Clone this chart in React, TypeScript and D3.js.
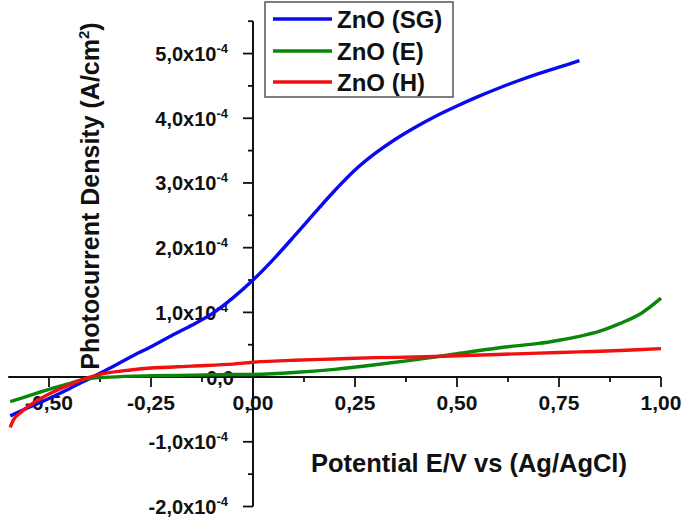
import React from "react";
import * as d3 from "d3";

// ZnO (SG)
const sgX = [-0.595, -0.55, -0.5, -0.45, -0.4, -0.35, -0.3, -0.25, -0.2, -0.15, -0.1, -0.05, 0.0, 0.05, 0.1, 0.15, 0.2, 0.25, 0.3, 0.35, 0.4, 0.45, 0.5, 0.55, 0.6, 0.65, 0.7, 0.75, 0.8];
const sgY = [-0.6, -0.47, -0.33, -0.18, -0.02, 0.14, 0.31, 0.47, 0.64, 0.8, 0.98, 1.22, 1.5, 1.82, 2.17, 2.53, 2.88, 3.2, 3.46, 3.68, 3.87, 4.04, 4.19, 4.33, 4.46, 4.58, 4.69, 4.79, 4.89];

// ZnO (E)
const eX = [-0.595, -0.55, -0.494, -0.45, -0.41, -0.35, -0.25, -0.15, -0.05, 0.0, 0.1, 0.2, 0.3, 0.4, 0.5, 0.6, 0.7, 0.75, 0.8, 0.85, 0.9, 0.95, 1.0];
const eY = [-0.38, -0.29, -0.18, -0.1, -0.03, 0.0, 0.02, 0.03, 0.04, 0.04, 0.07, 0.12, 0.19, 0.27, 0.36, 0.45, 0.52, 0.57, 0.63, 0.71, 0.83, 0.98, 1.22];

// ZnO (H)
const hX = [-0.595, -0.585, -0.57, -0.55, -0.52, -0.49, -0.45, -0.41, -0.37, -0.3, -0.25, -0.15, -0.05, 0.0, 0.1, 0.2, 0.3, 0.4, 0.5, 0.6, 0.7, 0.8, 0.9, 1.0];
const hY = [-0.78, -0.64, -0.55, -0.45, -0.33, -0.23, -0.12, -0.02, 0.05, 0.11, 0.14, 0.17, 0.2, 0.23, 0.26, 0.28, 0.3, 0.31, 0.33, 0.35, 0.37, 0.39, 0.41, 0.44];

const seriesNames = ["ZnO (SG)", "ZnO (E)", "ZnO (H)"];
const seriesColors = ["#0a0af0", "#0a870a", "#f01010"];

const xTicks = [-0.5, -0.25, 0, 0.25, 0.5, 0.75, 1.0];
const xTickLabels = ["-0,50", "-0,25", "0,00", "0,25", "0,50", "0,75", "1,00"];
const xMinor = [-0.375, -0.125, 0.125, 0.375, 0.625, 0.875];
const yTicks = [-2, -1, 0, 1, 2, 3, 4, 5];
const yTickLabels = ["-2,0", "-1,0", "0,0", "1,0", "2,0", "3,0", "4,0", "5,0"];
const yMinor = [-1.5, -0.5, 0.5, 1.5, 2.5, 3.5, 4.5, 5.5];

const FONT = "'Liberation Sans', Arial, Helvetica, sans-serif";

export default function App() {
  const x = d3.scaleLinear().domain([-0.6, 1.0]).range([8.2, 661]);
  const y = d3.scaleLinear().domain([-2, 5.5]).range([506.5, 21.2]);
  const x0 = x(0);
  const y0 = y(0);

  const line = d3
    .line<[number, number]>()
    .x((d) => x(d[0]))
    .y((d) => y(d[1]))
    .curve(d3.curveCatmullRom.alpha(0.5));

  const series = [
    sgX.map((v, i) => [v, sgY[i]] as [number, number]),
    eX.map((v, i) => [v, eY[i]] as [number, number]),
    hX.map((v, i) => [v, hY[i]] as [number, number]),
  ];

  const legendY = [19, 51, 82];

  return (
    <svg
      width={685}
      height={525}
      style={{ position: "absolute", left: 0, top: 0, background: "#fff" }}
      fontFamily={FONT}
      fontWeight="bold"
    >
      <rect x={0} y={0} width={685} height={525} fill="#fff" />
      {/* axes */}
      <line x1={x(-0.6)} x2={x(1.0)} y1={y0} y2={y0} stroke="#111" strokeWidth={2} />
      <line x1={x0} x2={x0} y1={y(5.5)} y2={y(-2)} stroke="#111" strokeWidth={2} />
      {xTicks.map((t) => (
        <line key={"xt" + t} x1={x(t)} x2={x(t)} y1={y0} y2={y0 + 10} stroke="#111" strokeWidth={1.8} />
      ))}
      {xMinor.map((t) => (
        <line key={"xm" + t} x1={x(t)} x2={x(t)} y1={y0} y2={y0 + 5} stroke="#111" strokeWidth={1.8} />
      ))}
      {yTicks.map((t) => (
        <line key={"yt" + t} x1={x0 - 10} x2={x0} y1={y(t)} y2={y(t)} stroke="#111" strokeWidth={1.8} />
      ))}
      {yMinor.map((t) => (
        <line key={"ym" + t} x1={x0 - 5} x2={x0} y1={y(t)} y2={y(t)} stroke="#111" strokeWidth={1.8} />
      ))}
      {/* x tick labels */}
      {xTicks.map((t, i) => (
        <text key={"xl" + t} x={x(t)} y={y0 + 33} textAnchor="middle" fontSize={21} fill="#111">
          {xTickLabels[i]}
        </text>
      ))}
      {/* y tick labels */}
      {yTicks.map((t, i) =>
        t === 0 ? (
          <text key={"yl" + t} x={x0 - 19} y={y(t) + 8} textAnchor="end" fontSize={20} fill="#111">
            {yTickLabels[i]}
          </text>
        ) : (
          <text key={"yl" + t} x={x0 - 25} y={y(t) + 7.5} textAnchor="end" fontSize={20} fill="#111">
            {yTickLabels[i] + "x10"}
            <tspan fontSize={13} dy={-8}>-4</tspan>
          </text>
        )
      )}
      {/* axis titles */}
      <text x={311} y={472} fontSize={25.5} fill="#111">
        Potential E/V vs (Ag/AgCl)
      </text>
      <text transform="translate(99,196) rotate(-90)" textAnchor="middle" fontSize={25} fill="#111">
        Photocurrent Density (A/cm
        <tspan fontSize={15} dy={-10}>2</tspan>
        <tspan dy={10}>)</tspan>
      </text>
      {/* data */}
      {series.map((s, i) => (
        <path key={"s" + i} d={line(s) || ""} fill="none" stroke={seriesColors[i]} strokeWidth={3.4} strokeLinejoin="round" />
      ))}
      {/* legend */}
      <rect x={265} y={2} width={188} height={95} fill="#fff" stroke="#555" strokeWidth={1.5} />
      {seriesNames.map((n, i) => (
        <g key={"lg" + i}>
          <line x1={273} x2={332} y1={legendY[i]} y2={legendY[i]} stroke={seriesColors[i]} strokeWidth={3.5} />
          <text x={337} y={legendY[i] + 8.5} fontSize={24} fill="#111">
            {n}
          </text>
        </g>
      ))}
    </svg>
  );
}
